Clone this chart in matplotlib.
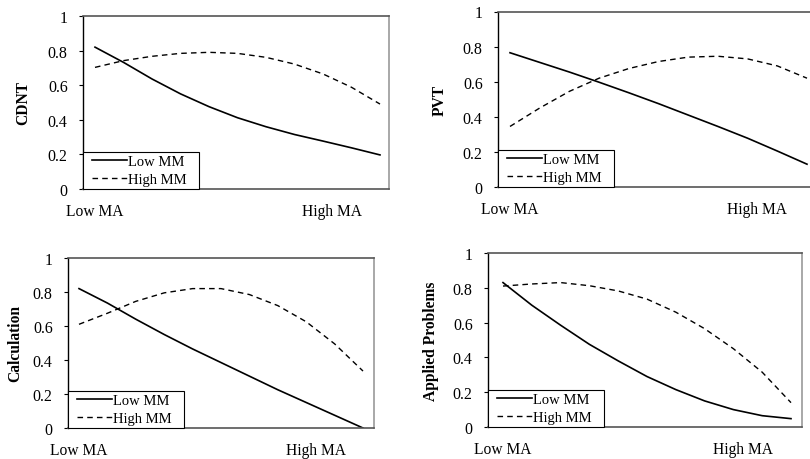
import matplotlib
matplotlib.use("Agg")
import matplotlib.pyplot as plt
from matplotlib.lines import Line2D
from matplotlib.legend_handler import HandlerLine2D

plt.rcParams['font.family'] = ['Liberation Serif', 'DejaVu Serif']

# data: 11 evenly spaced points from Low MA to beyond High MA
x_pos = list(range(11))
x_tick_pos = [0, 8.33]
x_tick_labels = ["Low MA", "High MA"]
y_ticks = [0, 0.2, 0.4, 0.6, 0.8, 1.0]
y_tick_labels = ["0", "0.2", "0.4", "0.6", "0.8", "1"]
series_names = ["Low MM", "High MM"]

cdnt_low = [0.82, 0.732, 0.636, 0.55, 0.476, 0.412, 0.36, 0.315, 0.277, 0.238, 0.197]
cdnt_high = [0.703, 0.742, 0.767, 0.784, 0.79, 0.784, 0.761, 0.722, 0.665, 0.588, 0.491]

pvt_low = [0.765, 0.71, 0.655, 0.597, 0.537, 0.475, 0.41, 0.345, 0.278, 0.205, 0.13]
pvt_high = [0.345, 0.45, 0.545, 0.62, 0.675, 0.715, 0.74, 0.745, 0.73, 0.69, 0.62]

calc_low = [0.82, 0.735, 0.64, 0.55, 0.465, 0.385, 0.305, 0.225, 0.15, 0.075, 0.0]
calc_high = [0.61, 0.675, 0.745, 0.795, 0.82, 0.82, 0.785, 0.72, 0.625, 0.495, 0.335]

ap_low = [0.83, 0.70, 0.585, 0.475, 0.38, 0.29, 0.215, 0.15, 0.10, 0.065, 0.048]
ap_high = [0.81, 0.822, 0.83, 0.812, 0.782, 0.735, 0.66, 0.565, 0.45, 0.315, 0.14]

W, H = 810, 460
fig = plt.figure(figsize=(W / 100, H / 100), dpi=100)

# panel layout in pixels: left, right, top, bottom, line start px, line end px, ylabel offset
panels = [
    ("CDNT", cdnt_low, cdnt_high, 83, 389, 17, 190, 95, 380, 52),
    ("PVT", pvt_low, pvt_high, 498, 822, 12.5, 188, 510, 807, 50.5),
    ("Calculation", calc_low, calc_high, 68, 374, 259, 429, 79, 363, 44.5),
    ("Applied Problems", ap_low, ap_high, 488, 802, 254, 428, 503, 791, 49.5),
]

for (name, lo, hi, l, r, t, b, xs, xe, yoff) in panels:
    ax = fig.add_axes([l / W, (H - b) / H, (r - l) / W, (b - t) / H])
    unit = (xe - xs) / 10.0
    ax.set_xlim(-(xs - l) / unit, 10 + (r - xe) / unit)
    ax.set_ylim(0, 1)
    ax.plot(x_pos, lo, color='black', lw=1.2, label=series_names[0])
    ax.plot(x_pos, hi, color='black', lw=1.0, linestyle=(0, (4, 3)), label=series_names[1])
    ax.set_yticks(y_ticks)
    ax.set_yticklabels(y_tick_labels, fontsize=11.5)
    ax.set_xticks(x_tick_pos)
    ax.set_xticklabels(x_tick_labels, fontsize=11.2)
    ax.tick_params(axis='x', length=0, pad=10)
    ax.tick_params(axis='y', length=3, width=0.8, pad=8, direction='out')
    ax.spines['left'].set_color('black')
    ax.spines['left'].set_linewidth(1.0)
    ax.spines['bottom'].set_color('#555555')
    ax.spines['top'].set_color('#555555')
    ax.spines['right'].set_color('#999999')
    for s in ['bottom', 'top', 'right']:
        ax.spines[s].set_linewidth(1.2)
    ax.set_ylabel(name, fontsize=11.2, fontweight='bold')
    ax.yaxis.set_label_coords(-yoff / (r - l), 0.5)
    leg = ax.legend(loc='lower left', bbox_to_anchor=(0, 0, 116 / (r - l), 0.2),
                    mode='expand', borderaxespad=0,
                    fancybox=False, framealpha=1, edgecolor='black',
                    handlelength=2.85, handletextpad=0.05, borderpad=0.2,
                    labelspacing=0.3, fontsize=10.5,
                    handler_map={Line2D: HandlerLine2D(xpad=0.45)})
    leg.get_frame().set_linewidth(0.8)

fig.savefig("out.png", dpi=100)
